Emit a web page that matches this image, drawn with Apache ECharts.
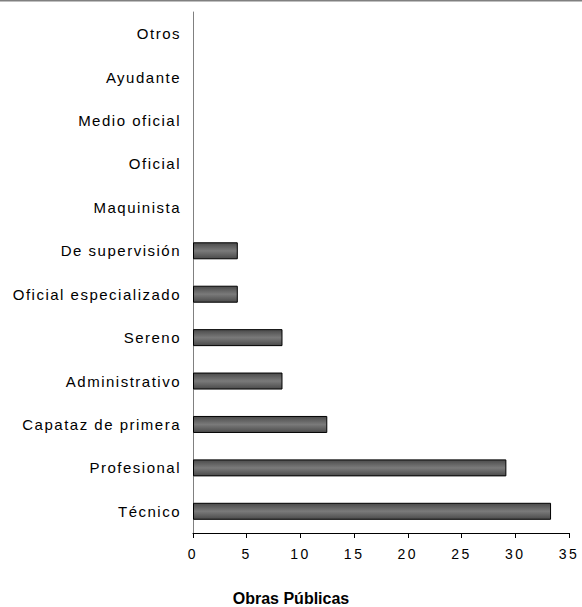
<!DOCTYPE html>
<html>
<head>
<meta charset="utf-8">
<script src="https://cdn.jsdelivr.net/npm/echarts@6/dist/echarts.min.js"></script>
<style>html,body{margin:0;padding:0;background:#fff;}#c{width:582px;height:607px;}</style>
</head>
<body>
<div id="c"></div>
<script>
const categories = ["Técnico","Profesional","Capataz de primera","Administrativo","Sereno","Oficial especializado","De supervisión","Maquinista","Oficial","Medio oficial","Ayudante","Otros"];
const values = [33.33,29.17,12.5,8.33,8.33,4.17,4.17,0,0,0,0,0];
const xTicks = [0,5,10,15,20,25,30,35];
const titleText = "Obras Públicas";

const chart = echarts.init(document.getElementById('c'), null, {renderer:'svg'});
chart.setOption({
  animation:false,
  backgroundColor:'#fff',
  title:{text:titleText,left:'center',top:590,padding:0,textStyle:{fontFamily:'Liberation Sans, Arial',fontSize:16,fontWeight:'bold',color:'#000',lineHeight:16}},
  grid:{left:193,right:13,top:12,bottom:74,containLabel:false},
  xAxis:{type:'value',min:xTicks[0],max:xTicks[xTicks.length-1],interval:5,
    splitLine:{show:false},
    axisLine:{show:true,lineStyle:{color:'#000',width:1}},
    axisTick:{show:true,length:5,lineStyle:{color:'#000'}},
    axisLabel:{fontFamily:'Liberation Sans, Arial',fontSize:14,color:'#000',margin:14}},
  yAxis:{type:'category',data:categories,
    axisLine:{show:true,lineStyle:{color:'#808080',width:1}},
    axisTick:{show:false},
    axisLabel:{fontFamily:'Liberation Sans, Arial',fontSize:15,color:'#000',margin:12}},
  series:[{type:'bar',data:values.map(v => v === 0 ? null : v),barWidth:17,
    itemStyle:{borderColor:'#000',borderWidth:1,
      color:new echarts.graphic.LinearGradient(0,0,0,1,[
        {offset:0,color:'#4a4a4a'},{offset:0.5,color:'#7a7a7a'},{offset:1,color:'#4a4a4a'}])}}],
  graphic:[{type:'line',shape:{x1:0,y1:0.5,x2:582,y2:0.5},style:{stroke:'#808080',lineWidth:2}}]
});

function spaceText(){
  const tickSet = new Set(xTicks.map(String));
  const catSet = new Set(categories);
  document.querySelectorAll('#c text').forEach(t => {
    const s = t.textContent;
    if (catSet.has(s)) t.style.letterSpacing = '1.5px';
    else if (tickSet.has(s)) t.style.letterSpacing = '2.5px';
  });
}
spaceText();
chart.on('finished', spaceText);
setTimeout(spaceText, 0);
</script>
</body>
</html>
